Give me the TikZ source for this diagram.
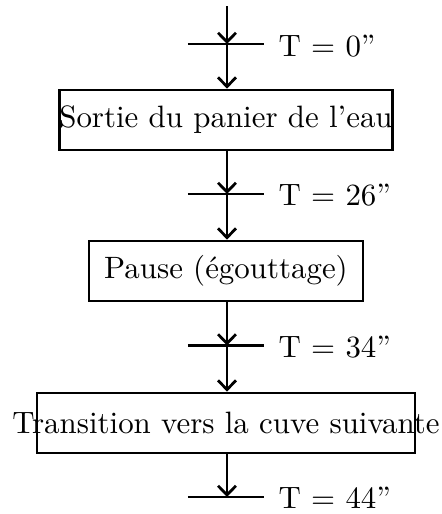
\documentclass[tikz,border=0pt]{standalone}
\usetikzlibrary{arrows.meta,calc}
\begin{document}
\begin{tikzpicture}[x=0.3236pt,y=-0.3236pt,
  conn/.style={line width=0.9pt,-{Straight Barb[length=3pt,width=5.8pt,line width=0.9pt]}},
  barline/.style={line width=0.9pt},
  stepbox/.style={draw,line width=0.9pt,inner sep=0pt,minimum height=19.4pt},
  lab/.style={anchor=base west,inner sep=0pt}]
\useasboundingbox (0,0) rectangle (442,514);
\coordinate (top) at (227,6);
\coordinate (s1) at (227,44);
\coordinate (s2) at (227,194);
\coordinate (s3) at (227,345.5);
\coordinate (s4) at (227,497);
\node[stepbox,minimum width=107.6pt] (b1) at (226,120) {\makebox[0pt][c]{Sortie du panier de l'eau}};
\node[stepbox,minimum width=88.6pt] (b2) at (226,271) {\makebox[0pt][c]{Pause (égouttage)}};
\node[stepbox,minimum width=122.3pt] (b3) at (226,423) {\makebox[0pt][c]{Transition vers la cuve suivante}};
\foreach \s in {s1,s2,s3,s4}{
  \draw[barline] ($(\s)+(-39,0)$) -- ($(\s)+(37,0)$);
}
\node[lab] (l1) at (278,56) {T = 0''};
\node[lab] (l2) at (278,205.5) {T = 26''};
\node[lab] (l3) at (278,357) {T = 34''};
\node[lab] (l4) at (278,508.5) {T = 44''};
\draw[conn] (top) -- (s1);
\draw[conn] (s1) -- (s1 |- b1.north);
\draw[conn] (s2 |- b1.south) -- (s2);
\draw[conn] (s2) -- (s2 |- b2.north);
\draw[conn] (s3 |- b2.south) -- (s3);
\draw[conn] (s3) -- (s3 |- b3.north);
\draw[conn] (s4 |- b3.south) -- (s4);
\end{tikzpicture}
\end{document}
